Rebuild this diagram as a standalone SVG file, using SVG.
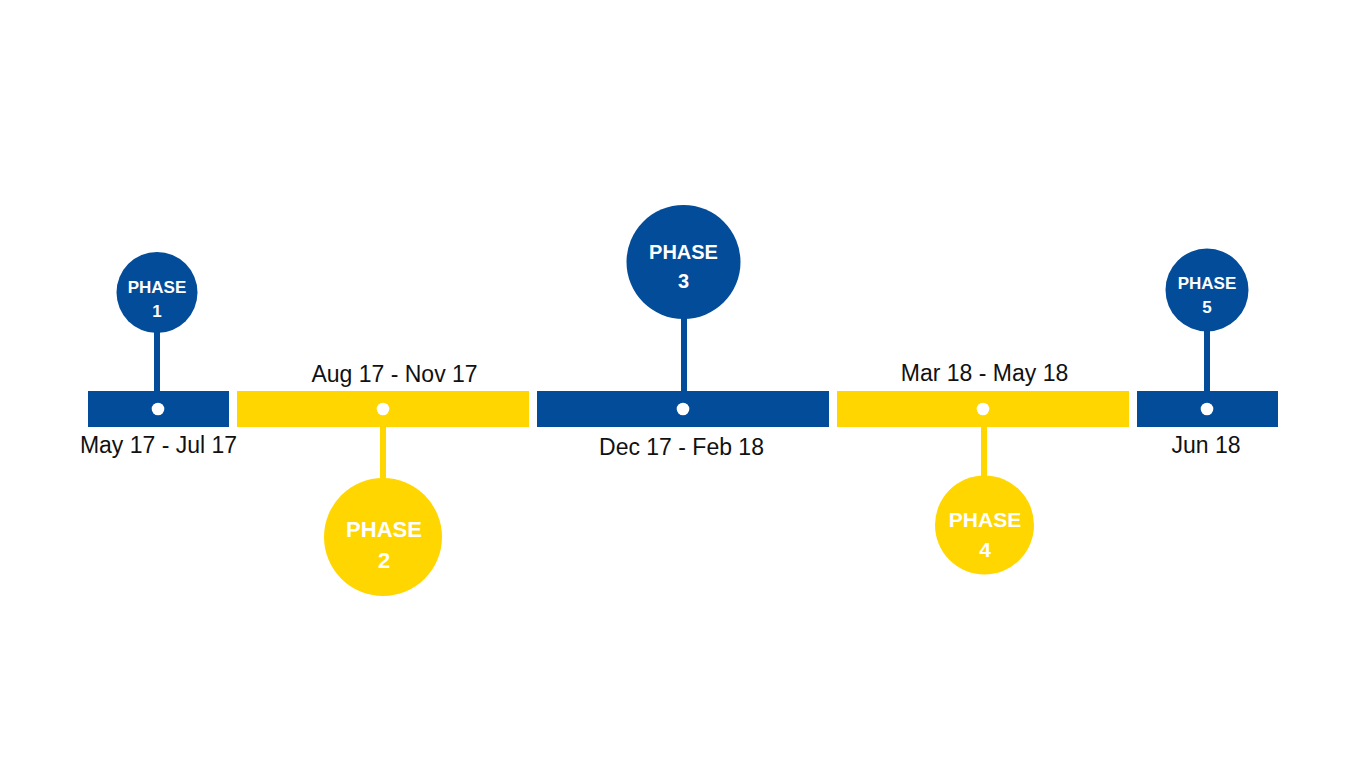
<svg xmlns="http://www.w3.org/2000/svg" width="1366" height="768" viewBox="0 0 1366 768">
<style>
.blue{fill:#024C99}
.yellow{fill:#FFD600}
.sb{stroke:#024C99;stroke-width:6}
.sy{stroke:#FFD600;stroke-width:6}
.dot{fill:#ffffff}
.ph{font-family:"Liberation Sans",Arial,sans-serif;font-weight:bold;fill:#ffffff;text-anchor:middle}
.date{font-family:"Liberation Sans",Arial,sans-serif;font-size:23px;fill:#111111;text-anchor:middle}
</style>
<rect width="1366" height="768" fill="#ffffff"/>
<g id="connectors">
<line class="sb" x1="157" y1="330" x2="157" y2="392"/>
<line class="sy" x1="383" y1="426" x2="383" y2="480"/>
<line class="sb" x1="684" y1="315" x2="684" y2="392"/>
<line class="sy" x1="984" y1="426" x2="984" y2="478"/>
<line class="sb" x1="1207" y1="330" x2="1207" y2="392"/>
</g>
<g id="bar1"><rect class="blue" x="88" y="391" width="141" height="36"/><circle class="dot" cx="158" cy="409" r="6.3"/><text class="date" x="158.5" y="453">May 17 - Jul 17</text></g>
<g id="bar2"><rect class="yellow" x="237" y="391" width="292" height="36"/><circle class="dot" cx="383" cy="409" r="6.3"/><text class="date" x="394.5" y="382">Aug 17 - Nov 17</text></g>
<g id="bar3"><rect class="blue" x="537" y="391" width="292" height="36"/><circle class="dot" cx="683" cy="409" r="6.3"/><text class="date" x="681.5" y="455">Dec 17 - Feb 18</text></g>
<g id="bar4"><rect class="yellow" x="837" y="391" width="292" height="36"/><circle class="dot" cx="983" cy="409" r="6.3"/><text class="date" x="984.5" y="381">Mar 18 - May 18</text></g>
<g id="bar5"><rect class="blue" x="1137" y="391" width="141" height="36"/><circle class="dot" cx="1207" cy="409" r="6.3"/><text class="date" x="1206" y="453">Jun 18</text></g>
<g id="phase1"><circle class="blue" cx="157" cy="292.5" r="40.5"/><text class="ph" x="157" y="293" font-size="17">PHASE</text><text class="ph" x="157" y="317" font-size="17">1</text></g>
<g id="phase2"><circle class="yellow" cx="383" cy="537" r="59"/><text class="ph" x="384" y="537" font-size="22">PHASE</text><text class="ph" x="384" y="568" font-size="22">2</text></g>
<g id="phase3"><circle class="blue" cx="683.5" cy="262" r="57"/><text class="ph" x="683.5" y="259" font-size="20">PHASE</text><text class="ph" x="683.5" y="288" font-size="20">3</text></g>
<g id="phase4"><circle class="yellow" cx="984.5" cy="525" r="49.5"/><text class="ph" x="985" y="527" font-size="21">PHASE</text><text class="ph" x="985" y="557" font-size="21">4</text></g>
<g id="phase5"><circle class="blue" cx="1207" cy="290" r="41.5"/><text class="ph" x="1207" y="289" font-size="17">PHASE</text><text class="ph" x="1207" y="313" font-size="17">5</text></g>
</svg>
